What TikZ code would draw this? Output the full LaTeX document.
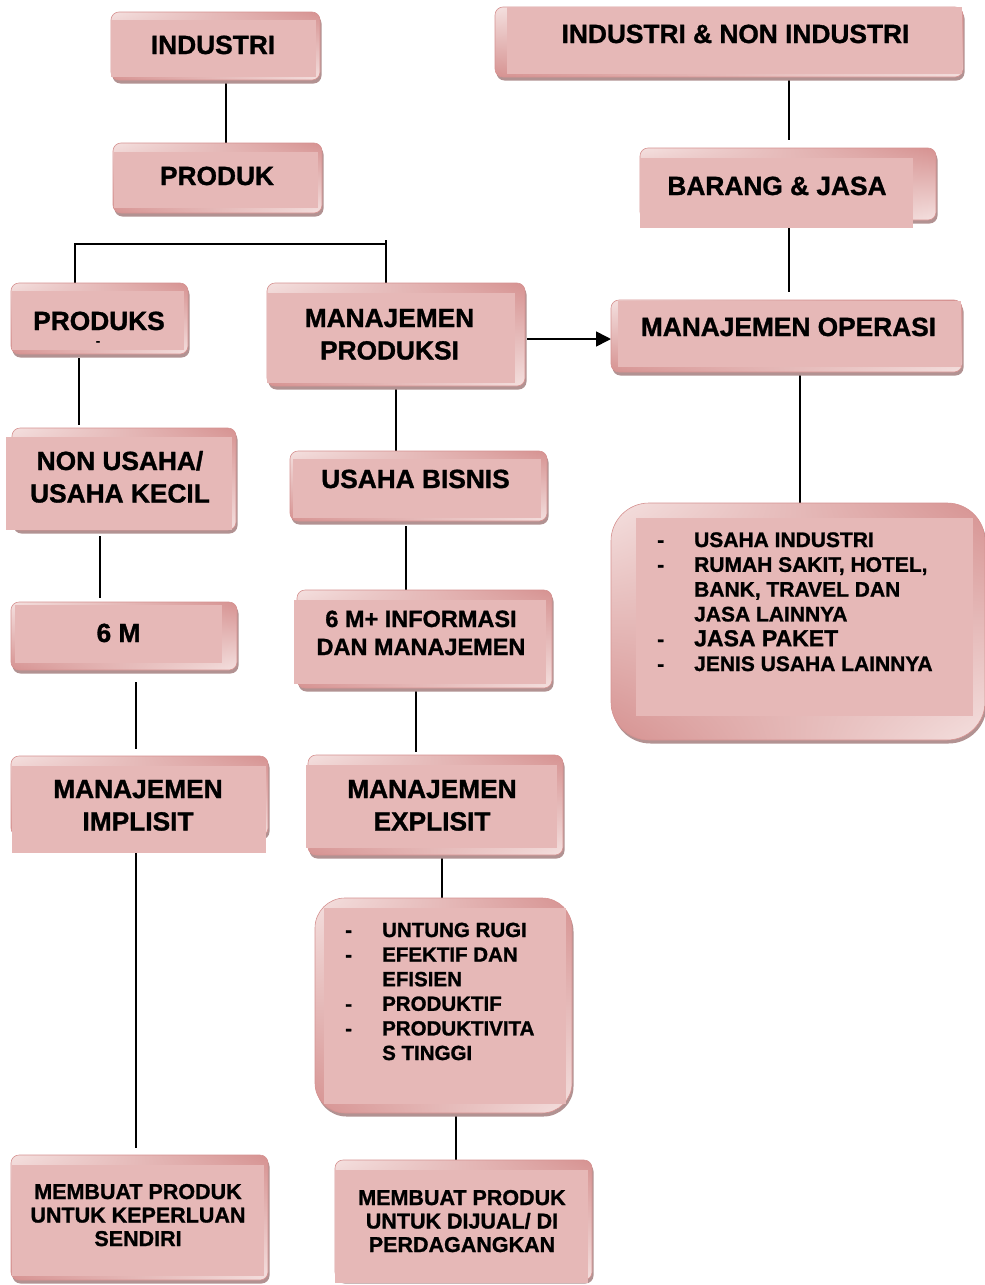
\documentclass[tikz,border=0pt]{standalone}
\usepackage{fontspec}
\setmainfont{Liberation Sans}[BoldFeatures={FakeBold=1.2}]
\usetikzlibrary{arrows.meta,shadings}

\definecolor{boxpink}{RGB}{230,184,183}
\definecolor{rimdark}{RGB}{214,146,145}
\definecolor{rimlight}{RGB}{244,224,223}
\definecolor{boxshade}{RGB}{178,146,146}

\pgfdeclarelayer{bg}
\pgfsetlayers{bg,main}

% corner radius of the bevelled boxes
\newcommand\boxr{8}
% #1 name, #2-#5 outer rounded box (x1,y1,x2,y2), #6-#9 flat face (x1,y1,x2,y2)
\newcommand\pinkbox[9]{%
  \fill[boxshade, rounded corners=\boxr pt] (#2+1.5,#3+3.5) rectangle (#4+1.5,#5+3.5);
  \node[rimbox, rounded corners=\boxr pt, minimum width={#4-#2}, minimum height={#5-#3}]
    (#1) at ({(#2+#4)/2},{(#3+#5)/2}) {};
  \fill[boxpink] (#6,#7) rectangle (#8,#9);
}
\newcommand\stk[1]{\begin{tabular}[t]{@{}c@{}}#1\end{tabular}}
\newcommand\dashcell{\makebox[37pt][l]{-}}

\tikzset{
  rimbox/.style={rectangle, inner sep=0pt, outer sep=0pt,
    draw=rimdark, line width=0.6pt,
    upper left=rimlight, upper right=rimdark,
    lower left=rimdark, lower right=rimlight},
  txt/.style={inner sep=0pt, anchor=base, font=\bfseries\fontsize{26.3}{32.5}\selectfont},
  txtm/.style={txt, font=\bfseries\fontsize{23.5}{28}\selectfont},
  txts/.style={txt, font=\bfseries\fontsize{21.5}{23.5}\selectfont},
  lstA/.style={inner sep=0pt, anchor=base west, font=\bfseries\fontsize{21}{24.8}\selectfont},
  lstB/.style={inner sep=0pt, anchor=base west, font=\bfseries\fontsize{20.5}{24.6}\selectfont},
  conn/.style={line width=1.6pt, black},
}

\begin{document}
\begin{tikzpicture}[x=1pt, y=-1pt]
\begin{pgfonlayer}{bg}
\fill[white] (0,0) rectangle (985,1285);
\end{pgfonlayer}
\useasboundingbox (0,0) rectangle (985,1285);

% ---- boxes ----
\pinkbox{industri}{111}{12}{320}{80}{111}{20}{316}{77}
\pinkbox{produk}{113}{143}{322}{213}{114}{152}{318}{208}
\pinkbox{indnon}{495}{7}{963}{77}{507}{7}{962}{74}
\pinkbox{barang}{640}{148}{936}{220}{640}{158}{913}{228}
\pinkbox{produks}{11}{283}{188}{354}{12}{291}{184}{350}
\pinkbox{manprod}{267}{283}{525}{386}{267}{293}{515}{383}
\pinkbox{manop}{611}{300}{962}{372}{618}{301}{961}{367}
\pinkbox{nonusaha}{12}{428}{236}{530}{6}{437}{232}{530}
\pinkbox{bisnis}{290}{451}{547}{521}{293}{459}{541}{518}
\pinkbox{enam}{11}{602}{237}{670}{15}{605}{222}{663}
\pinkbox{enamplus}{297}{590}{552}{688}{294}{600}{546}{684}
\pinkbox{implisit}{11}{756}{268}{836}{12}{766}{266}{853}
\pinkbox{explisit}{308}{755}{563}{855}{306}{765}{557}{848}
\pinkbox{buatsendiri}{11}{1155}{268}{1280}{12}{1165}{264}{1276}
\pinkbox{buatjual}{335}{1160}{592}{1280}{335}{1170}{588}{1283}
\renewcommand\boxr{38}
\pinkbox{jenis}{611}{503}{985}{740}{636}{518}{973}{716}
\renewcommand\boxr{30}
\pinkbox{tujuan}{315}{898}{572}{1113}{324}{908}{566}{1104}
\renewcommand\boxr{8}

% ---- labels ----
\node[txt] (t-industri) at (213,54) {INDUSTRI};
\node[txt] (t-produk) at (217,185) {PRODUK};
\node[txt] (t-indnon) at (735.5,43) {INDUSTRI \& NON INDUSTRI};
\node[txt] (t-barang) at (777,195) {BARANG \& JASA};
\node[txt] (t-produks) at (99,330) {PRODUKS};
\node[inner sep=0pt, font=\bfseries\fontsize{12}{14}\selectfont] (t-dash) at (98,343) {-};
\node[txt] (t-manprod) at (389.5,327) {\stk{MANAJEMEN\\PRODUKSI}};
\node[txt] (t-manop) at (788.5,336) {MANAJEMEN OPERASI};
\node[txt] (t-nonusaha) at (120,470) {\stk{NON USAHA/\\USAHA KECIL}};
\node[txt] (t-bisnis) at (415.5,488) {USAHA BISNIS};
\node[txt] (t-enam) at (118.5,642) {6 M};
\node[txtm] (t-enamplus) at (421,627) {\stk{6 M+ INFORMASI\\DAN MANAJEMEN}};
\node[txt] (t-implisit) at (138,798) {\stk{MANAJEMEN\\IMPLISIT}};
\node[txt] (t-explisit) at (432,798) {\stk{MANAJEMEN\\EXPLISIT}};
\node[txts] (t-buatsendiri) at (138,1199) {\stk{MEMBUAT PRODUK\\UNTUK KEPERLUAN\\SENDIRI}};
\node[txts] (t-buatjual) at (462,1205) {\stk{MEMBUAT PRODUK\\UNTUK DIJUAL/ DI\\PERDAGANGKAN}};
\node[lstA] (t-jenis) at (657,547) {\begin{tabular}[t]{@{}l@{}l@{}}
  \dashcell & USAHA INDUSTRI\\
  \dashcell & RUMAH SAKIT, HOTEL,\\
            & BANK, TRAVEL DAN\\
            & JASA LAINNYA\\
  \dashcell & {\fontsize{23}{24.8}\selectfont JASA PAKET}\\
  \dashcell & JENIS USAHA LAINNYA
\end{tabular}};
\node[lstB] (t-tujuan) at (345,937) {\begin{tabular}[t]{@{}l@{}l@{}}
  \dashcell & UNTUNG RUGI\\
  \dashcell & EFEKTIF DAN\\
            & EFISIEN\\
  \dashcell & PRODUKTIF\\
  \dashcell & PRODUKTIVITA\\
            & S TINGGI
\end{tabular}};

% ---- connectors ----
\coordinate (bl) at (75,244);
\coordinate (br) at (386,244);
\coordinate (brtop) at (386,240);
\begin{pgfonlayer}{bg}
\draw[conn] (industri.south -| 226,0) -- (produk.north -| 226,0);
\draw[conn, shorten >=8pt] (indnon.south -| 789,0) -- (barang.north -| 789,0);
\draw[conn, shorten <=6pt, shorten >=8pt] (barang.south -| 789,0) -- (manop.north -| 789,0);
\draw[conn] (manop.south -| 800,0) -- (jenis.north -| 800,0);
\draw[conn, shorten <=2pt, -{Triangle[length=15pt,width=15pt]}]
  (manprod.east |- 0,339) -- (manop.west |- 0,339);
\draw[conn] (produks.north -| bl) -- (bl) -- (br);
\draw[conn] (brtop) -- (manprod.north -| brtop);
\draw[conn, shorten <=4pt, shorten >=3pt] (produks.south -| 79,0) -- (nonusaha.north -| 79,0);
\draw[conn, shorten <=6pt, shorten >=4pt] (nonusaha.south -| 100,0) -- (enam.north -| 100,0);
\draw[conn, shorten <=12pt, shorten >=7pt] (enam.south -| 136,0) -- (implisit.north -| 136,0);
\draw[conn, shorten >=7pt] (implisit.south -| 136,0) -- (buatsendiri.north -| 136,0);
\draw[conn] (manprod.south -| 396,0) -- (bisnis.north -| 396,0);
\draw[conn, shorten <=5pt] (bisnis.south -| 406,0) -- (enamplus.north -| 406,0);
\draw[conn, shorten >=3pt] (enamplus.south -| 416,0) -- (explisit.north -| 416,0);
\draw[conn] (explisit.south -| 442,0) -- (tujuan.north -| 442,0);
\draw[conn] (tujuan.south -| 456,0) -- (buatjual.north -| 456,0);
\end{pgfonlayer}
\end{tikzpicture}
\end{document}
